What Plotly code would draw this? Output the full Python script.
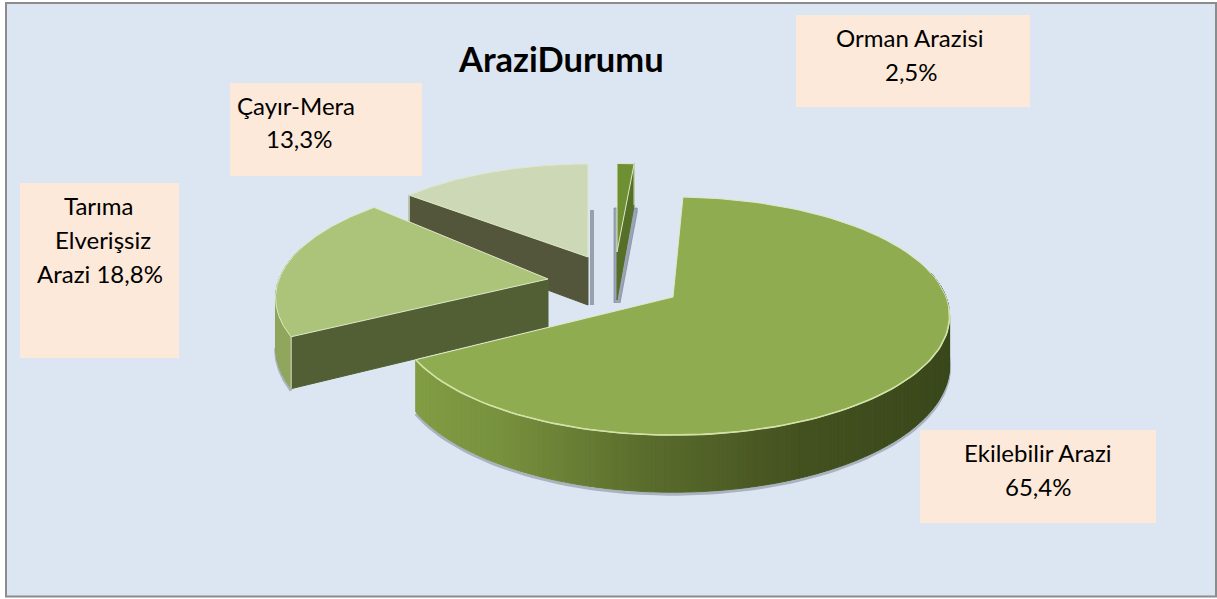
import math
import plotly.graph_objects as go

# ---- data ----
categories = ["Orman Arazisi", "Ekilebilir Arazi", "Tarıma Elverişsiz Arazi", "Çayır-Mera"]
shares = [2.5, 65.4, 18.8, 13.3]
title_text = "AraziDurumu"


def pct(v):
    return f"{v:.1f}%".replace(".", ",")


# ---- styling / projection (pixel space of the picture) ----
W, H = 1217, 599
RX, RY, K, DEPTH = 273, 116, 0.16, 48
geom = {
    "Orman Arazisi": dict(apex=(617, 252), scale=0.885, warp=1.28, lean=0, front=3.5, top="#6f8f33", wall="#566f28", arc=None),
    "Ekilebilir Arazi": dict(apex=(673, 297), scale=1.0, warp=1.57, lean=0, front=5.5, top="#8fad50", wall=None, arc=(82, None)),
    "Tarıma Elverişsiz Arazi": dict(apex=(548, 279), scale=0.985, warp=1.0, lean=-2, front=3.0, top="#abc47a", wall="#525f34", arc=(None, 285)),
    "Çayır-Mera": dict(apex=(588, 257), scale=0.93, warp=1.0, lean=3, front=3.5, top="#ccd8b6", wall="#53563a", arc=None),
}
GRAD_X = [410, 500, 650, 800, 950]
GRAD_C = [(130, 158, 68), (120, 145, 62), (90, 108, 44), (68, 82, 32), (58, 72, 28)]


def warp(theta, g):
    if g["warp"] != 1.0 and 0 <= theta < 90:
        return 90 * (theta / 90) ** g["warp"]
    if 180 <= theta <= 270:
        return theta - g["front"] * math.sin(math.radians(2 * (theta - 180)))
    if 270 < theta < 360:
        return theta - g["lean"] * math.sin(math.radians(2 * (theta - 270)))
    return theta


def project(name, theta):
    g = geom[name]
    t = math.radians(warp(theta, g))
    X, Y = math.sin(t), math.cos(t)
    s = 1 / (1 + K * Y)
    ax, ay = g["apex"]
    return ax + g["scale"] * RX * X * s, ay - g["scale"] * RY * Y * s, DEPTH * s


def grad(x):
    if x <= GRAD_X[0]:
        c = GRAD_C[0]
    elif x >= GRAD_X[-1]:
        c = GRAD_C[-1]
    else:
        for i in range(len(GRAD_X) - 1):
            if GRAD_X[i] <= x <= GRAD_X[i + 1]:
                f = (x - GRAD_X[i]) / (GRAD_X[i + 1] - GRAD_X[i])
                c = [GRAD_C[i][j] + f * (GRAD_C[i + 1][j] - GRAD_C[i][j]) for j in range(3)]
                break
    return "rgb(%d,%d,%d)" % tuple(c)


fig = go.Figure()


def poly(xs, ys, fill, line=None, width=1.0):
    fig.add_trace(go.Scatter(x=xs, y=ys, mode="lines", fill="toself", fillcolor=fill,
                             line=dict(color=line or fill, width=width), hoverinfo="skip", showlegend=False))


def stroke(xs, ys, color, width):
    fig.add_trace(go.Scatter(x=xs, y=ys, mode="lines", line=dict(color=color, width=width),
                             hoverinfo="skip", showlegend=False))


def frange(a, b, n):
    return [a + (b - a) * i / n for i in range(n + 1)]


# cumulative angles, clockwise from the top
ranges = {}
acc = 0.0
total = sum(shares)
for c, v in zip(categories, shares):
    ranges[c] = (acc * 360 / total, (acc + v) * 360 / total)
    acc += v


def draw_slice(name):
    g = geom[name]
    a0, a1 = ranges[name]
    ax, ay = g["apex"]
    thetas = frange(a0, a1, 120)
    arc = [project(name, t) for t in thetas]

    # soft ground shadow
    if name in ("Ekilebilir Arazi", "Tarıma Elverişsiz Arazi"):
        lo = a0 if name == "Tarıma Elverişsiz Arazi" else 95
        hi = 262 if name == "Tarıma Elverişsiz Arazi" else a1
        pts = [project(name, t) for t in frange(lo, hi, 80)]
        stroke([p[0] for p in pts], [p[1] + p[2] + 2 for p in pts], "rgba(95,100,115,0.4)", 3)
    if name == "Çayır-Mera":
        stroke([ax + 4, ax + 4], [ay - 47, ay + DEPTH], "rgba(120,130,150,0.7)", 4)
    if name == "Orman Arazisi":
        e = project(name, a1)
        poly([ax - 3, ax - 3, e[0] + 3, e[0] + 3, ax + 3], [ay + DEPTH + 3, ay - 44, ay - 44, ay - 40, ay + DEPTH + 3],
             "rgba(125,135,155,0.7)")

    # outer wall
    if g["arc"]:
        lo = g["arc"][0] if g["arc"][0] is not None else a0
        hi = g["arc"][1] if g["arc"][1] is not None else a1
        steps = frange(lo, hi, 180 if name == "Ekilebilir Arazi" else 14)
        for t0, t1 in zip(steps, steps[1:]):
            p0, p1 = project(name, t0), project(name, t1)
            col = grad((p0[0] + p1[0]) / 2) if name == "Ekilebilir Arazi" else "#8fa65c"
            poly([p0[0], p1[0], p1[0], p0[0], p0[0]],
                 [p0[1], p1[1], p1[1] + p1[2], p0[1] + p0[2], p0[1]], col)

    # flat radial wall
    if g["wall"]:
        t = a1 if name == "Orman Arazisi" else a0
        e = project(name, t)
        poly([e[0], ax, ax, e[0], e[0]], [e[1], ay, ay + DEPTH, e[1] + e[2], e[1]], g["wall"])
        stroke([e[0], e[0]], [e[1], e[1] + e[2]], "#d6e2bd", 1.2)

    # top face
    xs = [ax] + [p[0] for p in arc] + [ax]
    ys = [ay] + [p[1] for p in arc] + [ay]
    poly(xs, ys, g["top"], line="#dfe8c8", width=1.0)
    if name == "Ekilebilir Arazi":
        front = [project(name, t) for t in frange(95, a1, 90)]
        stroke([p[0] for p in front], [p[1] for p in front], "#d3e3a8", 1.6)


for name in ["Çayır-Mera", "Orman Arazisi", "Tarıma Elverişsiz Arazi", "Ekilebilir Arazi"]:
    draw_slice(name)

# ---- label boxes, one entry of text per printed line ----
label_boxes = [
    dict(box=(796, 15, 1030, 107), lines=[(910, 37, categories[0]), (911, 71, pct(shares[0]))]),
    dict(box=(230, 83, 422, 176), lines=[(296, 105, "Çayır-Mera"), (299, 138, pct(shares[3]))]),
    dict(box=(20, 183, 179, 358), lines=[(99, 205, "Tarıma"), (103, 239, "Elverişsiz"), (100, 273, "Arazi " + pct(shares[2]))]),
    dict(box=(920, 430, 1156, 523), lines=[(1038, 452, categories[1]), (1038, 486, pct(shares[1]))]),
]

shapes = [dict(type="rect", xref="x", yref="y", x0=6, y0=3, x1=1216, y1=596.5, layer="below",
               fillcolor="#dce6f2", line=dict(color="#8c8c8c", width=2))]
annotations = [dict(x=561, y=58, xref="x", yref="y", text=f"<b>{title_text}</b>", showarrow=False,
                    font=dict(family="Lato", size=34.5, color="#000000"))]
for lb in label_boxes:
    x0, y0, x1, y1 = lb["box"]
    shapes.append(dict(type="rect", xref="x", yref="y", x0=x0, y0=y0, x1=x1, y1=y1, layer="below",
                       fillcolor="#fde9d9", line=dict(width=0)))
    for x, y, t in lb["lines"]:
        annotations.append(dict(x=x, y=y, xref="x", yref="y", text=t, showarrow=False,
                                font=dict(family="Lato", size=24, color="#000000")))

fig.update_layout(
    width=W, height=H, margin=dict(l=0, r=0, t=0, b=0),
    paper_bgcolor="#ffffff", plot_bgcolor="rgba(0,0,0,0)", showlegend=False,
    xaxis=dict(range=[0, W], visible=False, fixedrange=True),
    yaxis=dict(range=[H, 0], visible=False, fixedrange=True),
    shapes=shapes, annotations=annotations,
)
fig.write_html("out.html", config={"displayModeBar": False},
               post_script="document.body.style.margin='0';document.body.style.overflow='hidden';")
